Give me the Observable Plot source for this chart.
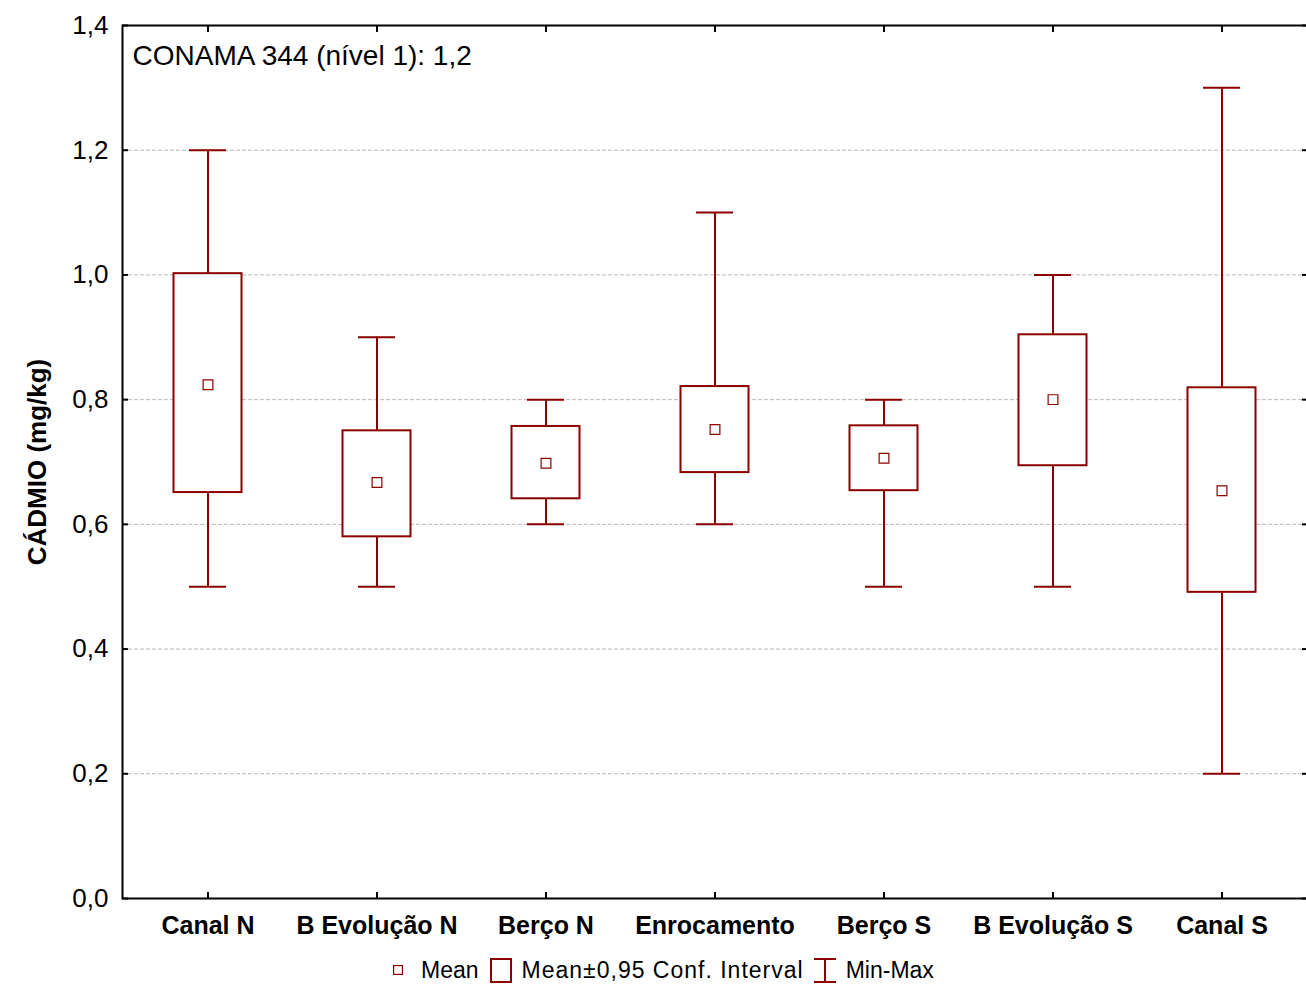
<!DOCTYPE html>
<html>
<head>
<meta charset="utf-8">
<script src="https://cdn.jsdelivr.net/npm/d3@7"></script>
<script src="https://cdn.jsdelivr.net/npm/@observablehq/plot@0.6"></script>
<style>
  html, body { margin: 0; padding: 0; background: #fff; overflow: hidden; }
  body { font-family: "Liberation Sans", Arial, sans-serif; width: 1306px; height: 985px; position: relative; }
  #legend {
    position: absolute; top: 950px; left: 393px; height: 40px;
    display: flex; align-items: center; font-size: 23px; color: #000;
  }
  #legend svg { display: block; flex: none; }
</style>
</head>
<body>
<div id="chart"></div>
<div id="legend">
  <svg width="10" height="10" style="margin-right:18px"><rect x="0.6" y="0.6" width="8.8" height="8.8" fill="#fff" stroke="#8b0000" stroke-width="1.2"/></svg>
  <span style="margin-right:11px">Mean</span>
  <svg width="22" height="25" style="margin-right:10px"><rect x="1" y="1" width="20" height="23" fill="#fff" stroke="#8b0000" stroke-width="2"/></svg>
  <span style="margin-right:10px;letter-spacing:1px">Mean±0,95 Conf. Interval</span>
  <svg width="22" height="25" style="margin-right:10px"><path d="M0,1H22M11,1V24M0,24H22" fill="none" stroke="#8b0000" stroke-width="2"/></svg>
  <span>Min-Max</span>
</div>
<script>
// Cadmium concentration by sampling area: mean, 95% confidence interval, min and max
const categories = ["Canal N", "B Evolução N", "Berço N", "Enrocamento", "Berço S", "B Evolução S", "Canal S"];
const means   = [0.824, 0.667, 0.698, 0.752, 0.706, 0.800, 0.654];
const ciLow   = [0.651, 0.580, 0.641, 0.683, 0.654, 0.694, 0.491];
const ciHigh  = [1.002, 0.750, 0.757, 0.821, 0.758, 0.904, 0.819];
const mins    = [0.5, 0.5, 0.6, 0.6, 0.5, 0.5, 0.2];
const maxs    = [1.2, 0.9, 0.8, 1.1, 0.8, 1.0, 1.3];
const yTicks  = [0, 0.2, 0.4, 0.6, 0.8, 1.0, 1.2, 1.4];
const gridLines = [0.2, 0.4, 0.6, 0.8, 1.0, 1.2];
const yTitle = "CÁDMIO (mg/kg)";
const note = "CONAMA 344 (nível 1): 1,2";

const rows = categories.map((cat, i) => ({
  cat, mean: means[i], lo: ciLow[i], hi: ciHigh[i], min: mins[i], max: maxs[i]
}));

const red = "#8b0000";
const comma = d => d.toFixed(1).replace(".", ",");
const blank = () => "";

const chart = Plot.plot({
  width: 1306,
  height: 950,
  marginLeft: 122,
  marginRight: -1,
  marginTop: 25,
  marginBottom: 52,
  style: { fontFamily: "Liberation Sans, Arial, sans-serif", background: "#fff", color: "#000" },
  x: { domain: categories, padding: 0, axis: null },
  y: { domain: [0, 1.4], axis: null },
  marks: [
    Plot.gridY(gridLines, { stroke: "#b8b8b8", strokeOpacity: 1, strokeWidth: 1, strokeDasharray: "4,2" }),
    // whiskers and caps
    Plot.ruleX(rows, { x: "cat", y1: "min", y2: "max", stroke: red, strokeWidth: 2 }),
    Plot.tickY(rows, { x: "cat", y: "min", stroke: red, strokeWidth: 2, insetLeft: 66, insetRight: 66 }),
    Plot.tickY(rows, { x: "cat", y: "max", stroke: red, strokeWidth: 2, insetLeft: 66, insetRight: 66 }),
    // confidence interval boxes
    Plot.barY(rows, { x: "cat", y1: "lo", y2: "hi", fill: "#fff", stroke: red, strokeWidth: 2, insetLeft: 50.5, insetRight: 50.5 }),
    // means
    Plot.dot(rows, { x: "cat", y: "mean", symbol: "square", r: 5.5, fill: "#fff", stroke: red, strokeWidth: 1.2 }),
    Plot.frame({ stroke: "#000", strokeWidth: 2 }),
    // y axis: labels, inward ticks left and right
    Plot.axisY(yTicks, { anchor: "left", tickSize: 0, tickPadding: 14, tickFormat: comma, fontSize: 26, label: null }),
    Plot.axisY(yTicks, { anchor: "left", tickSize: 6, dx: 6, tickFormat: blank, strokeWidth: 2, label: null }),
    Plot.axisY(yTicks, { anchor: "right", tickSize: 6, dx: -6, tickFormat: blank, strokeWidth: 2, label: null }),
    // x axis: labels, inward ticks bottom and top
    Plot.axisX({ anchor: "bottom", tickSize: 0, tickPadding: 18, fontSize: 25, fontWeight: "bold", label: null }),
    Plot.axisX({ anchor: "bottom", tickSize: 6, dy: -6, tickFormat: blank, strokeWidth: 2, label: null }),
    Plot.axisX({ anchor: "top", tickSize: 6, dy: 6, tickFormat: blank, strokeWidth: 2, label: null }),
    // axis title and reference note
    Plot.text([yTitle], { frameAnchor: "left", textAnchor: "middle", rotate: -90, dx: -85, fontSize: 26, fontWeight: "bold", fill: "#000" }),
    Plot.text([note], { frameAnchor: "top-left", textAnchor: "start", lineAnchor: "top", dx: 10, dy: 20, fontSize: 28, fill: "#000" })
  ]
});

document.getElementById("chart").appendChild(chart);
</script>
</body>
</html>
